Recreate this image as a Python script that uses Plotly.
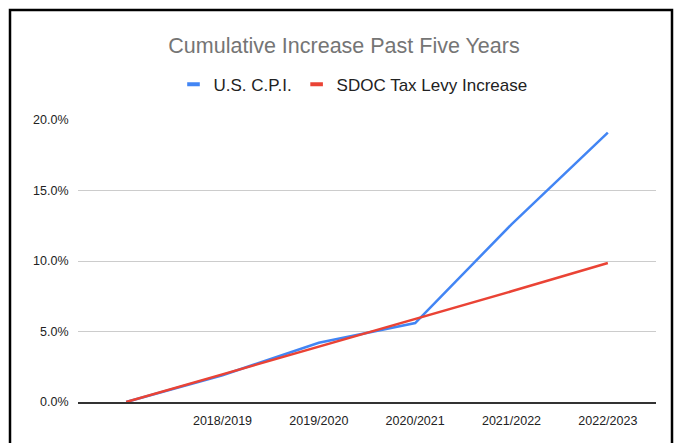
import plotly.graph_objects as go

periods = [" ", "2018/2019", "2019/2020", "2020/2021", "2021/2022", "2022/2023"]
cpi = [0.0, 1.9, 4.2, 5.6, 12.6, 19.1]
sdoc_levy = [0.0, 1.97, 3.94, 5.86, 7.85, 9.86]
y_ticks = [0, 5, 10, 15, 20]
y_tick_labels = ["0.0%", "5.0%", "10.0%", "15.0%", "20.0%"]

BLUE = "#4285F4"
RED = "#EA4335"
FONT = "Arial, 'Liberation Sans', sans-serif"

# page body has an 8px margin, so the figure is drawn 8px smaller
W, H = 674, 435

fig = go.Figure()
for name, vals, color in [("U.S. C.P.I.", cpi, BLUE), ("SDOC Tax Levy Increase", sdoc_levy, RED)]:
    fig.add_trace(go.Scatter(
        x=periods, y=vals, mode="lines", name=name,
        line=dict(color=color, width=2.5), showlegend=False,
    ))
    # short dash swatch for the legend, like Sheets
    fig.add_trace(go.Scatter(
        x=[None], y=[None], mode="markers", name=name,
        marker=dict(symbol="line-ew-open", size=9, color=color,
                    line=dict(color=color, width=4)),
    ))

fig.update_layout(
    width=W, height=H,
    margin=dict(l=70, r=26, t=112, b=41),
    paper_bgcolor="white", plot_bgcolor="white",
    font=dict(family=FONT, color="#222222", size=12),
    title=dict(text="Cumulative Increase Past Five Years", x=(344 - 8) / W, xanchor="center",
               y=1 - 37 / H, yanchor="middle",
               font=dict(family=FONT, size=21.5, color="#757575")),
    legend=dict(orientation="h", x=(353 - 78) / 578, xanchor="center", y=1.125, yanchor="middle",
                font=dict(family=FONT, size=17, color="#222222"),
                itemwidth=30, tracegroupgap=0),
    xaxis=dict(type="category", range=[-0.5, 5.5], showgrid=False,
               showline=True, linecolor="#333333", linewidth=1.5,
               ticks="outside", ticklen=6, tickcolor="rgba(0,0,0,0)",
               tickfont=dict(size=12.5, color="#222222")),
    yaxis=dict(range=[0, 20], tickvals=y_ticks, ticktext=y_tick_labels,
               showgrid=True, gridcolor="#cccccc", gridwidth=1, zeroline=False,
               ticks="outside", ticklen=6, tickcolor="rgba(0,0,0,0)",
               tickfont=dict(size=12.5, color="#222222")),
    shapes=[dict(type="rect", xref="paper", yref="paper",
                 x0=(10 - 78) / 578, x1=(672 - 78) / 578,
                 y0=-0.3, y1=(402 - 10) / 282,
                 line=dict(color="black", width=2.5), fillcolor="rgba(0,0,0,0)",
                 layer="below")],
)

fig.write_html("out.html")
